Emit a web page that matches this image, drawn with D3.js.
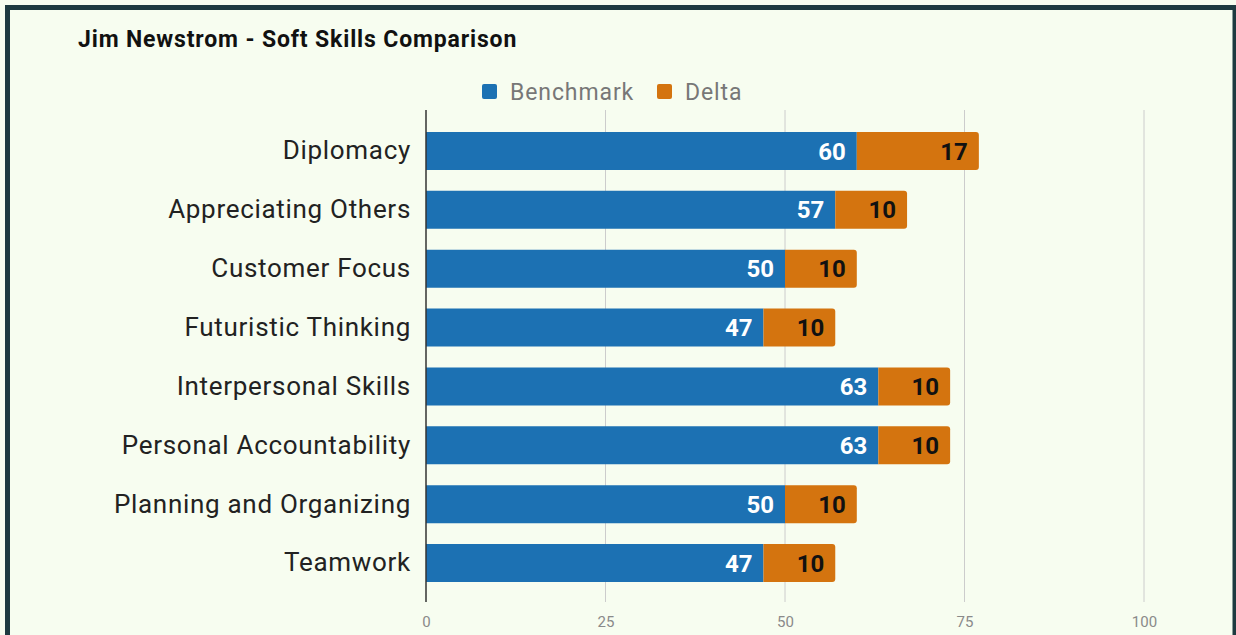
<!DOCTYPE html>
<html>
<head>
<meta charset="utf-8">
<script src="https://cdn.jsdelivr.net/npm/d3@7/dist/d3.min.js"></script>
<style>
  html, body { margin: 0; padding: 0; background: #f7fdf0; }
  svg { display: block; }
  text { font-family: Roboto, "Noto Sans", sans-serif; }
</style>
</head>
<body>
<svg id="chart" width="1236" height="635"></svg>
<script>
// Soft skills scores: benchmark plus the delta above it
const categories = [
  "Diplomacy",
  "Appreciating Others",
  "Customer Focus",
  "Futuristic Thinking",
  "Interpersonal Skills",
  "Personal Accountability",
  "Planning and Organizing",
  "Teamwork"
];
const benchmark = [60, 57, 50, 47, 63, 63, 50, 47];
const delta = [17, 10, 10, 10, 10, 10, 10, 10];
const seriesNames = ["Benchmark", "Delta"];
const tickValues = [0, 25, 50, 75, 100];
const chartTitle = "Jim Newstrom - Soft Skills Comparison";

const colors = { Benchmark: "#1c71b3", Delta: "#d4740f" };

const svg = d3.select("#chart");
const W = 1236, H = 635;

// background and frame
svg.append("rect").attr("width", W).attr("height", H).attr("fill", "#f7fdf0");
svg.append("rect")
  .attr("x", 7.5).attr("y", 7.5)
  .attr("width", W - 8.5).attr("height", H + 20)
  .attr("fill", "none")
  .attr("stroke", "#1d3a40")
  .attr("stroke-width", 5);

const x = d3.scaleLinear().domain([0, 100]).range([426, 1144]);
const y = d3.scaleBand().domain(categories).range([111, 603]).padding(0.355);

// gridlines
svg.append("g")
  .selectAll("line")
  .data(tickValues.filter(t => t !== 0))
  .join("line")
  .attr("x1", d => x(d)).attr("x2", d => x(d))
  .attr("y1", 110).attr("y2", 602)
  .attr("stroke", "#cccccc")
  .attr("stroke-width", 1);

// tick labels
const xAxis = d3.axisBottom(x).tickValues(tickValues).tickSize(0).tickPadding(0);
const gx = svg.append("g").attr("transform", "translate(0,616)").call(xAxis);
gx.select(".domain").remove();
gx.selectAll("text")
  .attr("fill", "#8a8a8a")
  .attr("font-size", 15)
  .attr("font-family", "Roboto, sans-serif")
  .attr("dy", "0.71em");

// stacked data
const rows = categories.map((c, i) => ({ cat: c, Benchmark: benchmark[i], Delta: delta[i] }));
const stack = d3.stack().keys(seriesNames)(rows);

const r = 3;
stack.forEach(layer => {
  const key = layer.key;
  const g = svg.append("g");
  g.selectAll("path")
    .data(layer)
    .join("path")
    .attr("fill", colors[key])
    .attr("d", d => {
      const x0 = x(d[0]), x1 = x(d[1]);
      const y0 = y(d.data.cat), h = y.bandwidth();
      if (key === "Delta") {
        return `M${x0},${y0}H${x1 - r}Q${x1},${y0} ${x1},${y0 + r}V${y0 + h - r}Q${x1},${y0 + h} ${x1 - r},${y0 + h}H${x0}Z`;
      }
      return `M${x0},${y0}H${x1}V${y0 + h}H${x0}Z`;
    });
  g.selectAll("text")
    .data(layer)
    .join("text")
    .attr("x", d => x(d[1]) - 11)
    .attr("y", d => y(d.data.cat) + y.bandwidth() / 2)
    .attr("dy", "0.36em")
    .attr("text-anchor", "end")
    .attr("font-size", 24)
    .attr("font-weight", "bold")
    .attr("fill", key === "Benchmark" ? "#ffffff" : "#111111")
    .text(d => d.data[key]);
});

// zero axis line
svg.append("line")
  .attr("x1", x(0)).attr("x2", x(0))
  .attr("y1", 110).attr("y2", 602)
  .attr("stroke", "#333333")
  .attr("stroke-width", 1.5);

// category labels
const yAxis = d3.axisLeft(y).tickSize(0).tickPadding(0);
const gy = svg.append("g").attr("transform", "translate(411,0)").call(yAxis);
gy.select(".domain").remove();
gy.selectAll("text")
  .attr("fill", "#222222")
  .attr("font-size", 26)
  .attr("letter-spacing", "0.7px")
  .attr("font-family", "Roboto, sans-serif");

// title
svg.append("text")
  .attr("x", 78).attr("y", 47)
  .attr("font-size", 23)
  .attr("font-weight", "bold")
  .attr("letter-spacing", "0.85px")
  .attr("fill", "#111111")
  .text(chartTitle);

// legend
const legendItems = [
  { name: seriesNames[0], sx: 482, tx: 510 },
  { name: seriesNames[1], sx: 657, tx: 685 }
];
const lg = svg.append("g");
legendItems.forEach(it => {
  lg.append("rect")
    .attr("x", it.sx).attr("y", 84)
    .attr("width", 15).attr("height", 15)
    .attr("rx", 2)
    .attr("fill", colors[it.name]);
  lg.append("text")
    .attr("x", it.tx).attr("y", 92)
    .attr("dy", "0.36em")
    .attr("font-size", 23)
    .attr("letter-spacing", "0.9px")
    .attr("fill", "#777777")
    .text(it.name);
});
</script>
</body>
</html>
